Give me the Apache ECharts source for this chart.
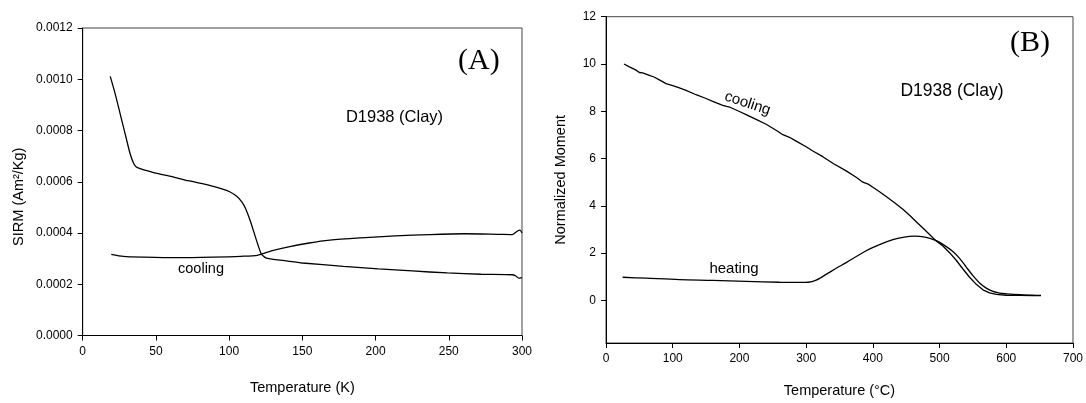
<!DOCTYPE html>
<html>
<head>
<meta charset="utf-8">
<script src="https://cdn.jsdelivr.net/npm/echarts@6/dist/echarts.min.js"></script>
<style>html,body{margin:0;padding:0;background:#fff;}#c{width:1086px;height:403px;}</style>
</head>
<body>
<div id="c"></div>
<script>
// Panel A: SIRM vs temperature (K)
const xTicksA = [0, 50, 100, 150, 200, 250, 300];
const yTicksA = [0, 0.0002, 0.0004, 0.0006, 0.0008, 0.0010, 0.0012];
const coolingA = [[19.5,0.000317],[27.7,0.000309],[42,0.000306],[65,0.000304],[89,0.000306],[108,0.000309],[119.4,0.000313],[128.8,0.00033],[140.6,0.000346],[154.7,0.000361],[168.8,0.000372],[190,0.000381],[213.5,0.000389],[237,0.000394],[260.5,0.000397],[284,0.000395],[293.4,0.000394],[297,0.000408],[298.6,0.000411],[300,0.0004]];
const warmingA = [[18.8,0.001011],[22.1,0.000945],[25.5,0.000867],[28.9,0.000789],[32.3,0.000711],[35.0,0.000669],[37.4,0.000655],[49,0.000635],[61,0.00062],[72,0.000604],[84,0.00059],[94,0.000574],[100,0.000562],[105,0.000544],[108.5,0.000522],[111.2,0.000496],[114.7,0.000443],[118.3,0.000378],[121.8,0.00032],[124.5,0.000305],[127,0.0003],[139,0.000291],[150,0.000283],[178,0.00027],[202,0.00026],[225,0.000252],[249,0.000244],[272,0.000239],[293.4,0.000237],[295.8,0.000232],[297.7,0.000224],[300,0.000226]];

// Panel B: normalized moment vs temperature (°C)
const xTicksB = [0, 100, 200, 300, 400, 500, 600, 700];
const yTicksB = [0, 2, 4, 6, 8, 10, 12];
const coolingB = [[27,10.0],[35,9.88],[45,9.74],[50,9.64],[55,9.62],[65,9.52],[72,9.45],[80,9.33],[90,9.17],[100,9.08],[110,8.99],[120,8.88],[135,8.70],[150,8.54],[160,8.42],[175,8.25],[185,8.18],[200,7.99],[210,7.86],[225,7.66],[240,7.45],[255,7.20],[265,7.01],[275,6.90],[285,6.74],[300,6.50],[310,6.32],[325,6.08],[340,5.80],[360,5.48],[375,5.21],[385,5.00],[393,4.92],[400,4.79],[410,4.60],[422,4.35],[435,4.08],[445,3.86],[455,3.60],[465,3.33],[475,3.06],[485,2.79],[494,2.54],[505,2.30],[515,2.02],[525,1.70],[535,1.33],[545,0.98],[555,0.68],[565,0.45],[575,0.32],[585,0.26],[600,0.22],[620,0.21],[640,0.2],[652,0.2]];
const heatingB = [[25,0.98],[60,0.94],[110,0.88],[160,0.85],[210,0.81],[260,0.77],[290,0.76],[303,0.77],[315,0.86],[330,1.1],[345,1.36],[360,1.6],[390,2.1],[410,2.36],[430,2.57],[445,2.67],[462,2.72],[478,2.68],[494,2.54],[505,2.37],[520,2.07],[530,1.78],[540,1.41],[550,1.05],[560,0.74],[570,0.52],[580,0.38],[590,0.31],[600,0.28],[620,0.24],[640,0.22],[652,0.21]];

const FONT = '"Liberation Sans", Arial, sans-serif';
const SERIF = '"Liberation Serif", "Times New Roman", serif';
const axisCommon = {
  axisLine: { show: true, onZero: false, lineStyle: { color: '#000', width: 1 } },
  axisTick: { show: true, inside: false, length: 5, lineStyle: { color: '#000' } },
  axisLabel: { color: '#000', fontFamily: FONT, fontSize: 12, margin: 10 },
  splitLine: { show: false },
  nameTextStyle: { color: '#000', fontFamily: FONT, fontSize: 14.5 }
};
function ax(extra) {
  const o = JSON.parse(JSON.stringify(axisCommon));
  for (const k in extra) {
    if (typeof extra[k] === 'object' && !Array.isArray(extra[k]) && o[k]) Object.assign(o[k], extra[k]);
    else o[k] = extra[k];
  }
  return o;
}
const lineStyle = { color: '#000', width: 1.3 };

const chart = echarts.init(document.getElementById('c'), null, { renderer: 'canvas' });
const option = {
  animation: false,
  backgroundColor: '#fff',
  grid: [
    { left: 82.7, top: 28, right: 564, bottom: 67.5, show: true, borderColor: '#444', borderWidth: 1, backgroundColor: 'transparent' },
    { left: 606, top: 16.7, right: 12, bottom: 58, show: true, borderColor: '#444', borderWidth: 1, backgroundColor: 'transparent' }
  ],
  xAxis: [
    ax({ type: 'value', gridIndex: 0, min: xTicksA[0], max: xTicksA[xTicksA.length-1], interval: 50,
      name: 'Temperature (K)', nameLocation: 'middle', nameGap: 45 }),
    ax({ type: 'value', gridIndex: 1, min: xTicksB[0], max: xTicksB[xTicksB.length-1], interval: 100,
      name: 'Temperature (°C)', nameLocation: 'middle', nameGap: 40 })
  ],
  yAxis: [
    ax({ type: 'value', gridIndex: 0, min: yTicksA[0], max: yTicksA[yTicksA.length-1], interval: 0.0002,
      axisLabel: { formatter: v => v.toFixed(4) },
      name: 'SIRM (Am²/Kg)', nameLocation: 'middle', nameGap: 56, nameTextStyle: { padding: [0, 0, 0, -30] } }),
    ax({ type: 'value', gridIndex: 1, min: -1.8, max: 12,
      axisTick: { customValues: yTicksB },
      axisLabel: { customValues: yTicksB },
      name: 'Normalized Moment', nameLocation: 'middle', nameGap: 38 })
  ],
  series: [
    { name: 'cooling A', type: 'line', xAxisIndex: 0, yAxisIndex: 0, data: coolingA, showSymbol: false, smooth: 0.25, lineStyle },
    { name: 'warming A', type: 'line', xAxisIndex: 0, yAxisIndex: 0, data: warmingA, showSymbol: false, smooth: 0.2, lineStyle },
    { name: 'cooling', type: 'line', xAxisIndex: 1, yAxisIndex: 1, data: coolingB, showSymbol: false, smooth: false, lineStyle },
    { name: 'heating', type: 'line', xAxisIndex: 1, yAxisIndex: 1, data: heatingB, showSymbol: false, smooth: 0.3, lineStyle }
  ],
  graphic: [
    { type: 'text', left: 458, top: 46, style: { text: '(A)', font: '30px ' + SERIF, fill: '#000' } },
    { type: 'text', left: 1010, top: 28, style: { text: '(B)', font: '30px ' + SERIF, fill: '#000' } },
    { type: 'text', x: 394.5, y: 117, style: { text: 'D1938 (Clay)', font: '16.5px ' + FONT, fill: '#000', align: 'center', verticalAlign: 'middle' } },
    { type: 'text', x: 952, y: 91, style: { text: 'D1938 (Clay)', font: '17.5px ' + FONT, fill: '#000', align: 'center', verticalAlign: 'middle' } },
    { type: 'text', x: 201, y: 268.5, style: { text: 'cooling', font: '14.5px ' + FONT, fill: '#000', align: 'center', verticalAlign: 'middle' } },
    { type: 'text', x: 734, y: 268.5, style: { text: 'heating', font: '15px ' + FONT, fill: '#000', align: 'center', verticalAlign: 'middle' } },
    { type: 'text', x: 747.5, y: 103.5, rotation: -0.32, style: { text: 'cooling', font: '15px ' + FONT, fill: '#000', align: 'center', verticalAlign: 'middle' } }
  ]
};
chart.setOption(option);
</script>
</body>
</html>
